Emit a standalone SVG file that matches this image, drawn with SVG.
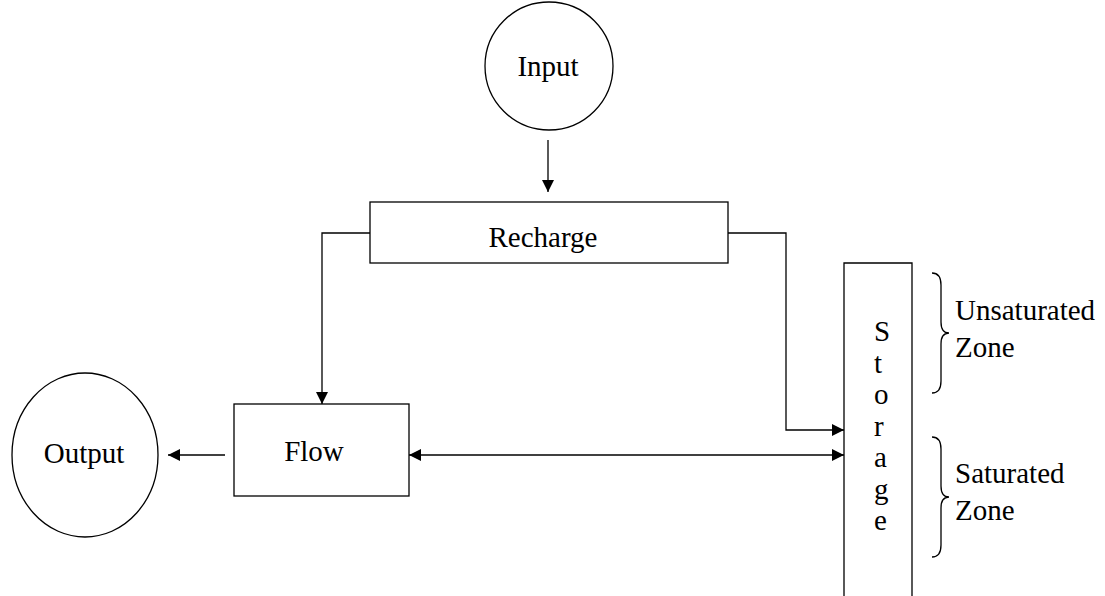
<svg xmlns="http://www.w3.org/2000/svg" width="1105" height="596" viewBox="0 0 1105 596">
<defs>
<marker id="ah" viewBox="0 0 12 12" refX="12" refY="6" markerWidth="12" markerHeight="12" markerUnits="userSpaceOnUse" orient="auto-start-reverse">
<path d="M0,0 L12,6 L0,12 Z" fill="#000"/>
</marker>
<style>
.s{fill:#fff;stroke:#000;stroke-width:1.3}
.c{fill:none;stroke:#000;stroke-width:1.3}
.t{font-family:"Liberation Serif","Times New Roman",serif;font-size:29px;fill:#000}
.m{text-anchor:middle}
</style>
</defs>
<rect width="1105" height="596" fill="#fff"/>
<g id="connectors">
<line class="c" x1="548" y1="140" x2="548" y2="192" marker-end="url(#ah)"/>
<polyline class="c" points="370,233 322,233 322,404" marker-end="url(#ah)"/>
<polyline class="c" points="728,233 786,233 786,430 844,430" marker-end="url(#ah)"/>
<line class="c" x1="225" y1="455" x2="168" y2="455" marker-end="url(#ah)"/>
<line class="c" x1="409" y1="455" x2="844" y2="455" marker-start="url(#ah)" marker-end="url(#ah)"/>
</g>
<g id="input">
<ellipse class="s" cx="549" cy="66" rx="64" ry="64"/>
<text class="t m" x="548" y="76">Input</text>
</g>
<g id="recharge">
<rect class="s" x="370" y="202" width="358" height="61"/>
<text class="t m" x="543" y="247">Recharge</text>
</g>
<g id="flow">
<rect class="s" x="234" y="404" width="175" height="92"/>
<text class="t m" x="314" y="461">Flow</text>
</g>
<g id="output">
<ellipse class="s" cx="85" cy="455" rx="73" ry="82"/>
<text class="t m" x="84" y="463">Output</text>
</g>
<g id="storage">
<polyline class="c" points="844,600 844,263 912,263 912,600"/>
<text class="t">
<tspan x="874" y="341">S</tspan>
<tspan x="874" y="372.5">t</tspan>
<tspan x="874" y="404">o</tspan>
<tspan x="874" y="435.5">r</tspan>
<tspan x="874" y="467">a</tspan>
<tspan x="874" y="498.5">g</tspan>
<tspan x="874" y="530">e</tspan>
</text>
</g>
<g id="unsaturated-zone">
<path class="c" d="M932,273 Q941,273 941,285 L941,322 Q941,333 949,333 Q941,333 941,344 L941,381 Q941,393 932,393"/>
<text class="t" x="955" y="320">Unsaturated</text>
<text class="t" x="955" y="357">Zone</text>
</g>
<g id="saturated-zone">
<path class="c" d="M932,437 Q941,437 941,449 L941,486 Q941,497 949,497 Q941,497 941,508 L941,545 Q941,557 932,557"/>
<text class="t" x="955" y="483">Saturated</text>
<text class="t" x="955" y="520">Zone</text>
</g>
</svg>
